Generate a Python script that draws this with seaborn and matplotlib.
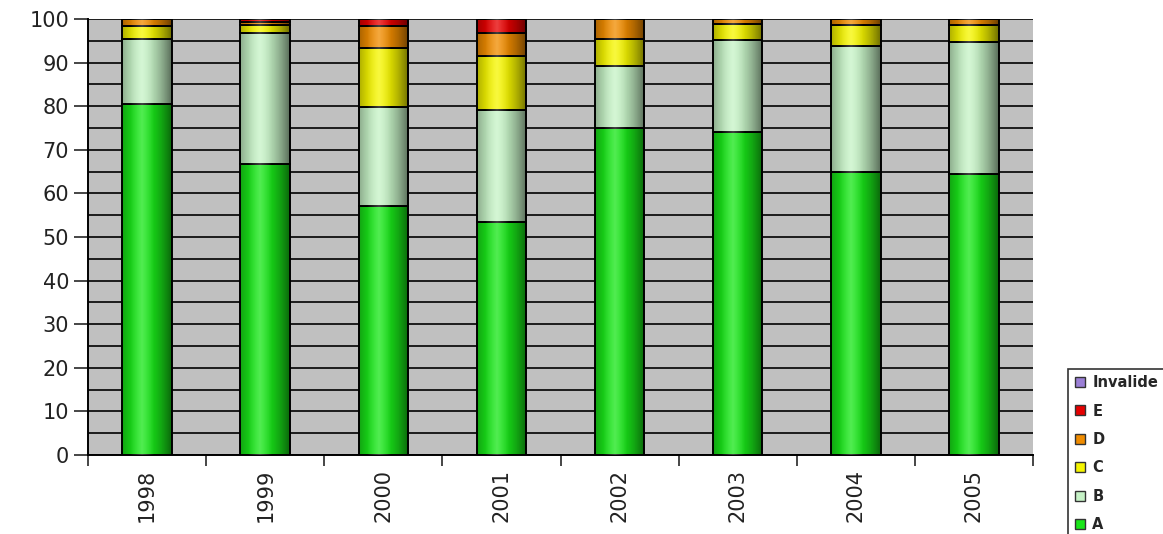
import matplotlib
matplotlib.use("Agg")
import matplotlib.pyplot as plt
import seaborn as sns
import pandas as pd
import numpy as np
from matplotlib.lines import Line2D

years = ["1998", "1999", "2000", "2001", "2002", "2003", "2004", "2005"]
cls_a = [80.4, 66.7, 57.0, 53.4, 75.0, 74.1, 65.0, 64.4]
cls_b = [15.0, 30.2, 22.9, 25.7, 14.2, 21.0, 28.8, 30.3]
cls_c = [2.9, 1.8, 13.4, 12.3, 6.1, 3.8, 4.8, 3.9]
cls_d = [1.7, 0.7, 5.1, 5.5, 4.7, 1.1, 1.4, 1.4]
cls_e = [0.0, 0.6, 1.6, 3.1, 0.0, 0.0, 0.0, 0.0]
invalide = [0.0, 0.0, 0.0, 0.0, 0.0, 0.0, 0.0, 0.0]

series = ["A", "B", "C", "D", "E", "Invalide"]
colors = {"A": "#19e619", "B": "#c6f2c6", "C": "#f5f500", "D": "#f08c00",
          "E": "#e60000", "Invalide": "#9b7fd6"}

df = pd.DataFrame({"year": years, "A": cls_a, "B": cls_b, "C": cls_c,
                   "D": cls_d, "E": cls_e, "Invalide": invalide})

sns.set_style("white")
plt.rcParams["font.family"] = ["DejaVu Sans"]

fig = plt.figure(figsize=(11.63, 5.34), dpi=100)
ax = fig.add_axes([88 / 1163, 79 / 534, 945 / 1163, 436 / 534])
ax.set_facecolor("#c0c0c0")

bottom = np.zeros(len(years))
for s in series:
    sns.barplot(data=df, x="year", y=s, bottom=bottom, color=colors[s],
                width=0.42, edgecolor="black", linewidth=1.4, ax=ax,
                saturation=1, zorder=3)
    bottom = bottom + df[s].values

# cylinder-like shading on each bar (dark edges, light highlight left of centre)
xs = np.linspace(0, 1, 64)
dark = np.clip(np.abs(xs - 0.4) / 0.6, 0, 1) ** 1.6 * 0.55
light = np.clip(1 - np.abs(xs - 0.4) / 0.25, 0, 1) * 0.25
shade = np.zeros((1, 64, 4))
shade[0, :, 3] = dark
glow = np.ones((1, 64, 4))
glow[0, :, 3] = light
for p in list(ax.patches):
    if p.get_height() <= 0:
        continue
    x0, y0 = p.get_x(), p.get_y()
    ext = [x0, x0 + p.get_width(), y0, y0 + p.get_height()]
    for img in (shade, glow):
        im = ax.imshow(img, extent=ext, aspect="auto", zorder=3.5,
                       interpolation="bilinear")
        im.set_clip_path(p)

ax.set_ylim(0, 100)
ax.set_xlim(-0.5, len(years) - 0.5)
ax.set_yticks(np.arange(0, 101, 10))
ax.set_yticks(np.arange(0, 101, 5), minor=True)
ax.grid(axis="y", which="both", color="black", linewidth=1.2, zorder=1)
ax.set_axisbelow(True)
ax.tick_params(axis="y", which="major", direction="out", length=10, width=1.2,
               labelsize=15, labelcolor="#222222", left=True)
ax.tick_params(axis="y", which="minor", length=0)
ax.set_xticks(range(len(years)))
ax.set_xticklabels(years, rotation=90, fontsize=15, color="#222222")
ax.set_xticks(np.arange(-0.5, len(years), 1), minor=True)
ax.tick_params(axis="x", which="major", length=0, pad=10)
ax.tick_params(axis="x", which="minor", direction="out", length=8, width=1.2, bottom=True)
ax.set_xlabel("")
ax.set_ylabel("")
for side in ["top", "right"]:
    ax.spines[side].set_visible(False)
for side in ["left", "bottom"]:
    ax.spines[side].set_color("black")
    ax.spines[side].set_linewidth(1.4)

handles = [Line2D([], [], marker="s", linestyle="", markersize=7,
                  markerfacecolor=colors[s], markeredgecolor="#333333")
           for s in reversed(series)]
leg = fig.legend(handles, list(reversed(series)), loc="upper left",
                 bbox_to_anchor=(1061 / 1163, 1 - 362 / 534), frameon=True,
                 fancybox=False, edgecolor="black",
                 handlelength=0.8, handletextpad=0.45, labelspacing=0.92,
                 borderpad=0.4, prop={"weight": "bold", "size": 10.5})
leg.get_frame().set_linewidth(1.2)

fig.savefig("out.png", dpi=100)
